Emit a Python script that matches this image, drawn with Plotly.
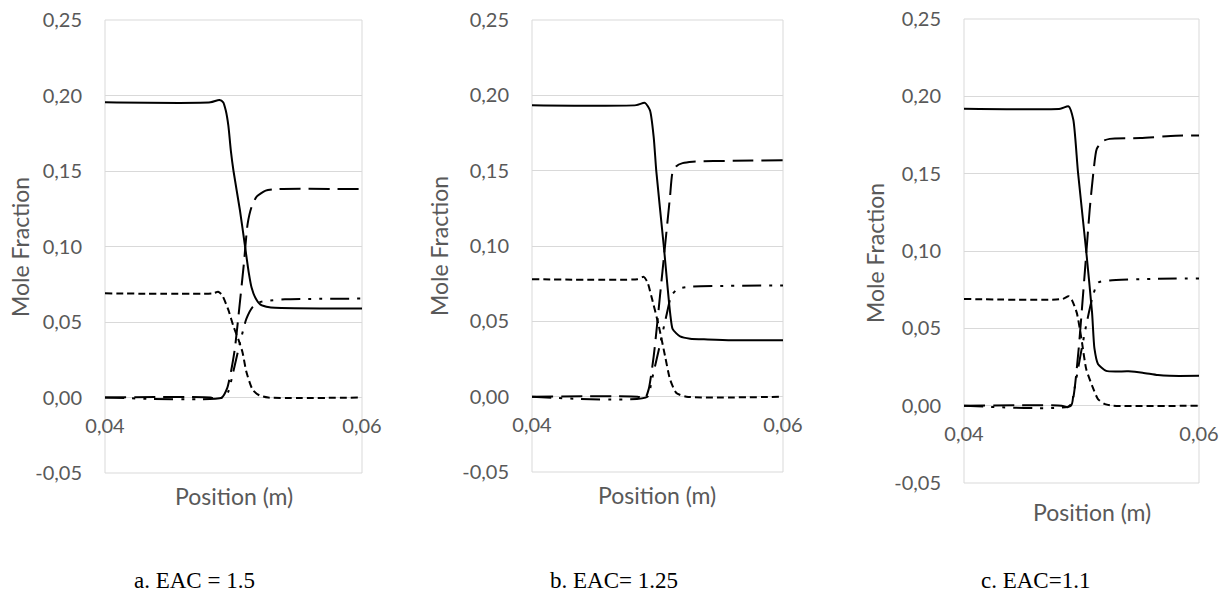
import plotly.graph_objects as go

# ---------------- data ----------------
# Panel a: EAC = 1.5
a_solid_x = [0.040, 0.0482, 0.0489, 0.0492, 0.0494, 0.0496, 0.0498, 0.0500, 0.0505, 0.0509, 0.0512, 0.0514, 0.0517, 0.0521, 0.0528, 0.060]
a_solid_y = [0.1955, 0.1955, 0.197, 0.1955, 0.190, 0.180, 0.163, 0.150, 0.124, 0.100, 0.082, 0.073, 0.066, 0.0615, 0.0598, 0.059]
a_long_x = [0.040, 0.0482, 0.0487, 0.0491, 0.0495, 0.0498, 0.0501, 0.0504, 0.0508, 0.0511, 0.0514, 0.0518, 0.0525, 0.0535, 0.060]
a_long_y = [0.0, 0.0, -0.0012, 0.0, 0.006, 0.017, 0.032, 0.055, 0.088, 0.115, 0.126, 0.133, 0.137, 0.138, 0.138]
a_dd_x = [0.040, 0.0492, 0.0496, 0.0499, 0.0505, 0.0510, 0.0515, 0.0520, 0.0526, 0.054, 0.060]
a_dd_y = [0.0, 0.0, 0.004, 0.014, 0.036, 0.052, 0.060, 0.063, 0.064, 0.065, 0.0655]
a_short_x = [0.040, 0.0484, 0.0488, 0.0491, 0.0496, 0.0500, 0.0504, 0.0507, 0.0510, 0.0515, 0.0520, 0.0527, 0.060]
a_short_y = [0.069, 0.069, 0.070, 0.068, 0.058, 0.047, 0.038, 0.030, 0.017, 0.005, 0.0015, 0.0, 0.0]

# Panel b: EAC = 1.25
b_solid_x = [0.040, 0.0483, 0.0490, 0.0494, 0.0497, 0.0499, 0.0505, 0.0510, 0.0512, 0.0515, 0.0518, 0.0526, 0.054, 0.056, 0.060]
b_solid_y = [0.1935, 0.1935, 0.195, 0.190, 0.172, 0.150, 0.100, 0.056, 0.045, 0.042, 0.040, 0.0385, 0.038, 0.0375, 0.0375]
b_long_x = [0.040, 0.0484, 0.0490, 0.0493, 0.0497, 0.0502, 0.0506, 0.0510, 0.0512, 0.0515, 0.0520, 0.0528, 0.056, 0.060]
b_long_y = [0.0, 0.0, -0.0012, 0.005, 0.027, 0.067, 0.100, 0.133, 0.149, 0.153, 0.155, 0.156, 0.1565, 0.157]
b_dd_x = [0.040, 0.0492, 0.0495, 0.0501, 0.0507, 0.0511, 0.0516, 0.0526, 0.055, 0.060]
b_dd_y = [0.0, 0.0, 0.0095, 0.031, 0.0535, 0.067, 0.0715, 0.073, 0.0735, 0.0738]
b_short_x = [0.040, 0.0484, 0.0489, 0.0492, 0.0495, 0.0501, 0.0506, 0.0510, 0.0515, 0.0523, 0.060]
b_short_y = [0.078, 0.078, 0.0795, 0.076, 0.067, 0.047, 0.027, 0.0115, 0.0025, 0.0, 0.0]

# Panel c: EAC = 1.1
c_solid_x = [0.040, 0.0482, 0.0489, 0.0493, 0.0497, 0.0504, 0.0509, 0.0511, 0.0514, 0.0521, 0.0540, 0.0552, 0.0565, 0.0575, 0.060]
c_solid_y = [0.192, 0.192, 0.1935, 0.185, 0.151, 0.100, 0.060, 0.037, 0.027, 0.0225, 0.0222, 0.0213, 0.0198, 0.0193, 0.0193]
c_long_x = [0.040, 0.0483, 0.0488, 0.0492, 0.0497, 0.0503, 0.0507, 0.0510, 0.0513, 0.0518, 0.0524, 0.055, 0.058, 0.060]
c_long_y = [0.0, 0.0, -0.001, 0.002, 0.032, 0.088, 0.127, 0.150, 0.166, 0.171, 0.1725, 0.173, 0.1745, 0.1747]
c_dd_x = [0.040, 0.0491, 0.0493, 0.0499, 0.0504, 0.0509, 0.0514, 0.0524, 0.056, 0.060]
c_dd_y = [0.0, 0.0, 0.0065, 0.032, 0.052, 0.069, 0.0795, 0.081, 0.082, 0.0823]
c_short_x = [0.040, 0.0484, 0.0489, 0.0492, 0.0496, 0.0500, 0.0504, 0.0509, 0.0514, 0.0520, 0.0527, 0.060]
c_short_y = [0.069, 0.069, 0.0708, 0.068, 0.060, 0.043, 0.0237, 0.013, 0.0043, 0.001, 0.0, 0.0]

captions = ["a. EAC = 1.5", "b. EAC= 1.25", "c. EAC=1.1"]
x_ticks = [0.04, 0.06]
x_tick_text = ["0,04", "0,06"]
y_ticks = [-0.05, 0.0, 0.05, 0.10, 0.15, 0.20, 0.25]
y_tick_text = ["-0,05", "0,00", "0,05", "0,10", "0,15", "0,20", "0,25"]
y_range = [-0.05, 0.25]
x_range = [0.04, 0.06]

# ---------------- layout geometry ----------------
W, H = 1227, 593
# plot areas in pixels (left, right, top, bottom)
areas = [(105, 362, 20, 473), (532, 783, 20, 472), (964, 1199, 19, 483)]
ytitle_pos = [(20, 247), (439, 246), (875, 253)]
xtitle_pos = [(234, 496), (657, 495), (1092, 512)]
caption_pos = [(194, 580), (614, 580), (1035, 580)]

GRID = "#d9d9d9"
TXT = "#595959"
FONT = "Lato"

styles = {
    "solid": dict(dash="solid", width=2),
    "long": dict(dash="21px,8px", width=2),
    "dd": dict(dash="19px,8px,3px,8px,3px,8px", width=2),
    "short": dict(dash="7px,4px", width=2),
}

panels = [
    [(a_solid_x, a_solid_y, "solid"), (a_long_x, a_long_y, "long"), (a_dd_x, a_dd_y, "dd"), (a_short_x, a_short_y, "short")],
    [(b_solid_x, b_solid_y, "solid"), (b_long_x, b_long_y, "long"), (b_dd_x, b_dd_y, "dd"), (b_short_x, b_short_y, "short")],
    [(c_solid_x, c_solid_y, "solid"), (c_long_x, c_long_y, "long"), (c_dd_x, c_dd_y, "dd"), (c_short_x, c_short_y, "short")],
]

fig = go.Figure()
layout = dict(
    width=W, height=H,
    margin=dict(l=0, r=0, t=0, b=0, pad=0, autoexpand=False),
    paper_bgcolor="white", plot_bgcolor="white",
    showlegend=False,
    font=dict(family=FONT, color=TXT, size=20),
)
annotations = []
shapes = []

for i, (series, (l, r, t, b)) in enumerate(zip(panels, areas)):
    n = "" if i == 0 else str(i + 1)
    xd = [l / W, r / W]
    yd = [1 - b / H, 1 - t / H]
    for xs, ys, st in series:
        fig.add_trace(go.Scatter(
            x=xs, y=ys, mode="lines", xaxis="x" + n, yaxis="y" + n,
            line=dict(color="black", shape="spline", smoothing=0.6, **styles[st]),
            hoverinfo="skip",
        ))
    zero_pos = yd[0] + (0 - y_range[0]) / (y_range[1] - y_range[0]) * (yd[1] - yd[0])
    layout["xaxis" + n] = dict(
        domain=xd, range=x_range, anchor="free", position=zero_pos,
        showgrid=False, zeroline=False, showline=False,
        tickvals=x_ticks, ticktext=x_tick_text, ticks="",
        ticklabelstandoff=14, tickfont=dict(size=20, color=TXT, family=FONT),
    )
    layout["yaxis" + n] = dict(
        domain=yd, range=y_range, anchor="x" + n,
        tickvals=y_ticks, ticktext=y_tick_text,
        showgrid=True, gridcolor=GRID, gridwidth=1,
        zeroline=False, showline=False, ticks="",
        ticklabelstandoff=22, tickfont=dict(size=20, color=TXT, family=FONT),
    )
    shapes.append(dict(type="rect", xref=f"x{n} domain", yref=f"y{n} domain",
                       x0=0, x1=1, y0=0, y1=1, line=dict(color=GRID, width=1),
                       layer="below"))
    tx, ty = ytitle_pos[i]
    annotations.append(dict(text="Mole Fraction", x=tx / W, y=1 - ty / H, xref="paper", yref="paper",
                            textangle=-90, showarrow=False, xanchor="center", yanchor="middle",
                            font=dict(size=23, color=TXT, family=FONT)))
    px, py = xtitle_pos[i]
    annotations.append(dict(text="Position (m)", x=px / W, y=1 - py / H, xref="paper", yref="paper",
                            showarrow=False, xanchor="center", yanchor="middle",
                            font=dict(size=23, color=TXT, family=FONT)))
    cx, cy = caption_pos[i]
    annotations.append(dict(text=captions[i], x=cx / W, y=1 - cy / H, xref="paper", yref="paper",
                            showarrow=False, xanchor="center", yanchor="middle",
                            font=dict(size=23, color="black", family="Liberation Serif")))

layout["annotations"] = annotations
layout["shapes"] = shapes
fig.update_layout(**layout)
fig.write_html(
    "out.html",
    config={"displayModeBar": False, "staticPlot": True},
    post_script="document.body.style.margin='0';document.body.style.overflow='hidden';",
)
